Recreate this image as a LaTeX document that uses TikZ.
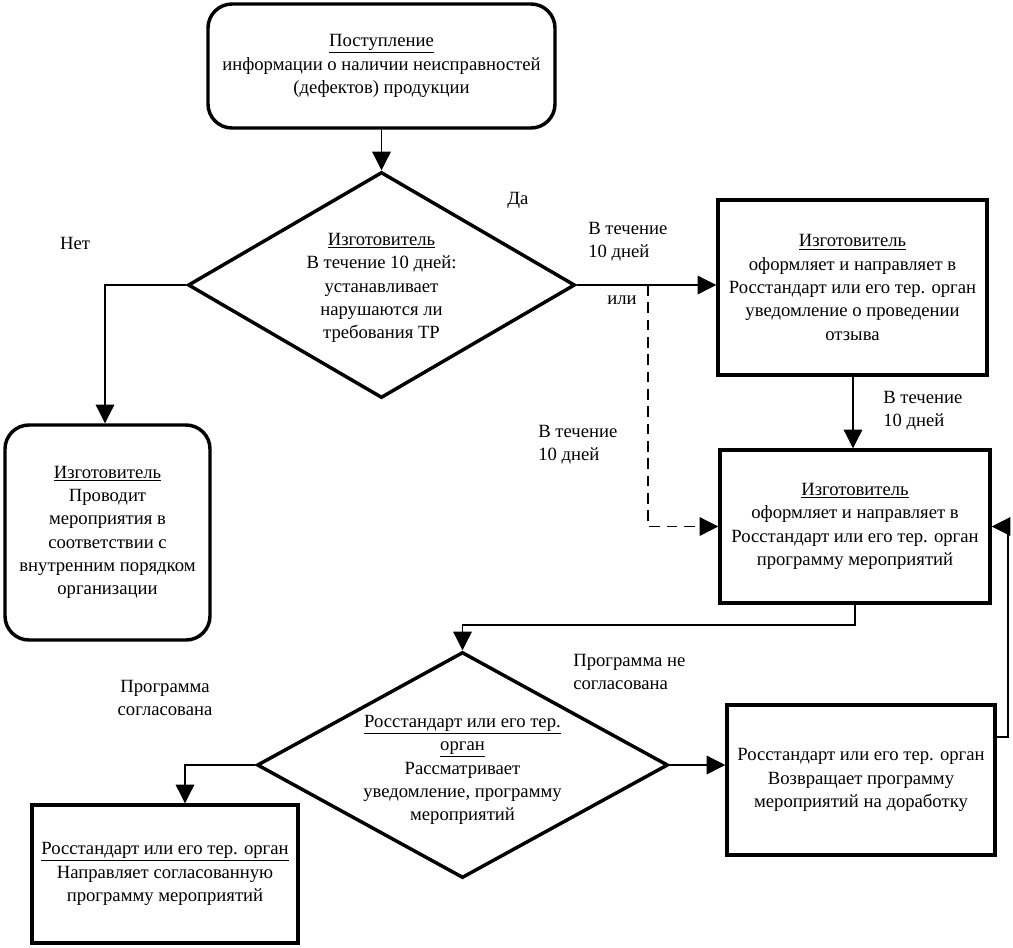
\documentclass[tikz,border=0pt]{standalone}
\usepackage{fontspec}
\setmainfont{Liberation Serif}
\usetikzlibrary{shapes.geometric,arrows.meta,calc}
\newcommand\myfs{\fontsize{14}{17.5}\selectfont}
\begin{document}
\begin{tikzpicture}[x=0.75pt,y=-0.75pt,
  box/.style={draw,line width=2.6pt,align=center,inner sep=0pt,font=\myfs},
  rbox/.style={box,rounded corners=18pt},
  dia/.style={draw,diamond,line width=2.6pt,inner sep=0pt},
  txt/.style={font=\myfs,align=center,inner sep=0pt},
  lbl/.style={font=\myfs,align=left,inner sep=0pt,anchor=west},
  conn/.style={line width=0.9pt},
  arr/.style={conn,-{Triangle[width=14pt,length=14pt]}}]
\fill[white] (0,0) rectangle (1013,947);
\useasboundingbox (0,0) rectangle (1013,947);

% nodes
\node[rbox,minimum width=260.25pt,minimum height=93pt] (box1) at (381.5,66)
  {\underline{Поступление}\\информации о наличии неисправностей\\(дефектов) продукции};
\node[dia,minimum width=290.25pt,minimum height=169.5pt] (d1) at (381.5,285) {};
\node[txt] (d1t) at (381.5,288)
  {\underline{Изготовитель}\\В течение 10 дней:\\устанавливает\\нарушаются ли\\требования ТР};
\node[rbox,minimum width=153.75pt,minimum height=161.25pt] (box2) at (107.5,532.5)
  {\underline{Изготовитель}\\Проводит\\мероприятия в\\соответствии с\\внутренним порядком\\организации};
\node[box,minimum width=201.75pt,minimum height=131.25pt] (box3) at (852.5,287.5)
  {\underline{Изготовитель}\\оформляет и направляет в\\Росстандарт или его тер. орган\\уведомление о проведении\\отзыва};
\node[box,minimum width=202.5pt,minimum height=114.75pt] (box4) at (855,526.5)
  {\underline{Изготовитель}\\оформляет и направляет в\\Росстандарт или его тер. орган\\программу мероприятий};
\node[dia,minimum width=308.25pt,minimum height=169.5pt] (d2) at (462.5,765) {};
\node[txt] (d2t) at (462.5,770)
  {\underline{Росстандарт или его тер.}\\\underline{орган}\\Рассматривает\\уведомление, программу\\мероприятий};
\node[box,minimum width=201pt,minimum height=112.5pt] (box5) at (861,780)
  {Росстандарт или его тер. орган\\Возвращает программу\\мероприятий на доработку};
\node[box,minimum width=199.5pt,minimum height=103.5pt] (box6) at (165,874)
  {\underline{Росстандарт или его тер. орган}\\Направляет согласованную\\программу мероприятий};

% labels
\node[txt] (lno) at (75,243) {Нет};
\node[txt] (lyes) at (518,200) {Да};
\node[lbl] (l1) at (588,242) {В течение\\10 дней};
\node[txt] (lor) at (622,300) {или};
\node[lbl] (l2) at (538,445) {В течение\\10 дней};
\node[lbl] (l3) at (883,411) {В течение\\10 дней};
\node[txt] (l4) at (165,698) {Программа\\согласована};
\node[lbl] (l5) at (573,672) {Программа не\\согласована};

% helper coordinates
\coordinate (split) at (648,285);
\coordinate (j1) at (462.5,625);
\coordinate (j2) at (185,765);
\coordinate (j3) at (105,285);
\coordinate (r1) at (1008,737);

% connectors
\draw[arr] (box1.south -| d1.north) -- (d1.north);
\draw[arr] (d1.west) -- (j3) -- (j3 |- box2.north);
\draw[arr] (d1.east) -- (d1.east -| box3.west);
\draw[arr,dashed,dash pattern=on 8pt off 5pt] (split) |- (box4.west);
\draw[arr] (box3.south -| 853,0) -- (853,0 |- box4.north);
\draw[arr] (box4.south) |- (j1) -- (d2.north);
\draw[arr] (d2.east) -- (d2.east -| box5.west);
\draw[arr] (box5.east |- r1) -- (r1) |- (box4.east);
\draw[arr] (d2.west) -- (j2) -- (j2 |- box6.north);
\end{tikzpicture}
\end{document}
